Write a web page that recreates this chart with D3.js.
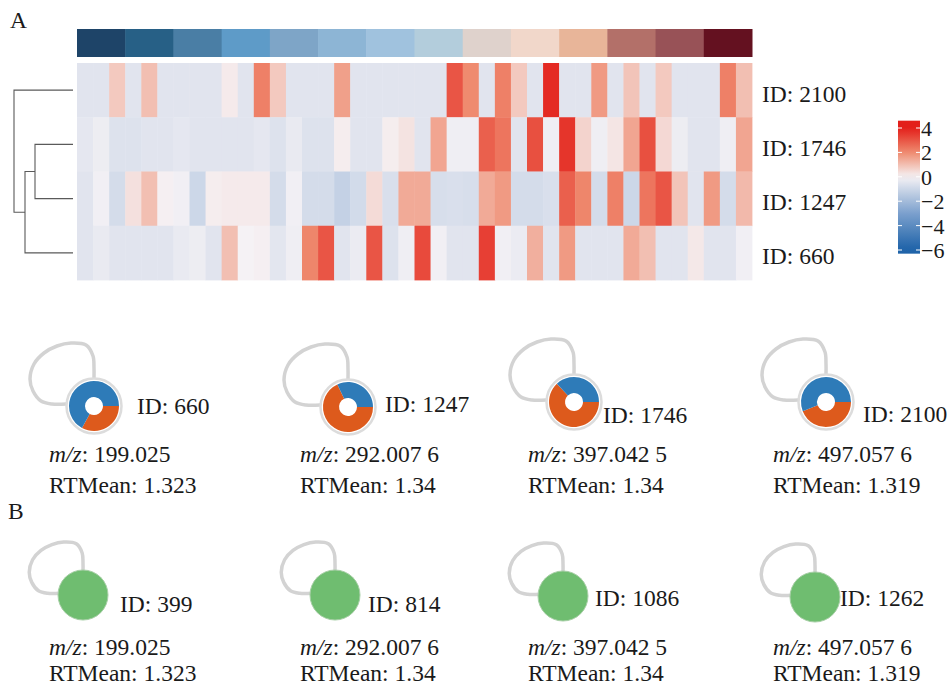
<!DOCTYPE html>
<html><head><meta charset="utf-8">
<script src="https://cdn.jsdelivr.net/npm/d3@7/dist/d3.min.js"></script>
<style>
body{margin:0;background:#fff;overflow:hidden}
svg{display:block}
</style>
</head><body>
<svg id="c" width="952" height="687" font-family="'Liberation Serif', 'Times New Roman', Times, 'DejaVu Serif', serif"></svg>
<script>
// ---------- DATA ----------
const rowIds = ["2100", "1746", "1247", "660"];
const groupColors = ["#1e4468","#276086","#4a7ea5","#5e9bc8","#7ea5c7","#8db5d5","#a0c2de",
                     "#b3cddc","#dfd2cc","#f1d7ca","#e8b599","#b37069","#985257","#641120"];
const v2100 = [-0.5,-0.5,0.8,-0.5,1.0,-0.5,-0.5,-0.5,-0.5,0.15,-0.5,2.2,0.8,-0.5,-0.5,-0.5,1.6,-0.5,-0.5,-0.5,-0.5,
               -0.5,-0.5,3.0,2.0,-0.5,2.2,0.8,-0.5,3.8,-0.5,-0.5,1.7,-0.5,0.9,-0.5,0.8,-0.5,-0.5,-0.5,2.2,1.0];
const v1746 = [-0.4,-0.2,-0.6,-0.6,-0.5,-0.5,-0.4,-0.5,-0.5,-0.5,-0.5,-0.4,-0.6,-0.3,-0.6,-0.6,0.1,-0.5,-0.5,0.1,0.3,
               -0.5,1.5,-0.15,-0.15,2.8,2.4,-0.5,3.1,-0.15,3.6,0.6,-0.15,0.25,1.5,3.1,0.5,-0.2,-0.5,-0.5,-0.15,1.5];
const v1247 = [-0.5,-0.1,-0.8,0.35,1.0,0.05,-0.1,-1.0,0.1,0.15,0.15,0.15,-0.8,-0.1,-0.8,-0.8,-1.2,-0.85,0.45,-0.7,1.4,
               1.4,-0.75,-0.7,-0.75,1.4,1.7,-0.8,-0.8,-0.7,2.8,2.1,-0.8,2.2,-1.0,2.4,3.0,0.9,-0.5,1.7,-0.8,1.1];
const v660  = [-0.5,-0.3,-0.5,-0.5,-0.5,-0.5,-0.3,-0.2,-0.5,1.0,0.0,0.05,-0.45,-0.15,2.1,3.0,-0.5,-0.25,3.0,-0.6,-0.15,
               3.2,-0.1,-0.5,-0.5,3.4,-0.1,-0.25,1.3,-0.5,1.7,-0.5,-0.5,-0.5,1.4,1.0,-0.5,-0.5,0.2,-0.5,-0.5,-0.1];
const legendTicks = [4, 2, 0, -2, -4, -6];
// hierarchical clustering merges (children, merge height)
const merges = [
  {id:"m1", a:"1746", b:"1247", h:3.8},
  {id:"m2", a:"m1",   b:"660",  h:4.8},
  {id:"m3", a:"2100", b:"m2",   h:5.9}
];
const moduleIdsA = ["660", "1247", "1746", "2100"];
const orangeShare = [0.33, 0.68, 0.63, 0.44];
const moduleIdsB = ["399", "814", "1086", "1262"];
const mzValues = ["199.025", "292.007 6", "397.042 5", "497.057 6"];
const rtMeans = ["1.323", "1.34", "1.34", "1.319"];

// ---------- LAYOUT ----------
const svg = d3.select("#c");
const FS = "23.5px";
const nCols = v2100.length;
const rowsData = {"2100": v2100, "1746": v1746, "1247": v1247, "660": v660};
const heat = {x0: 77, x1: 752, y0: 63, y1: 280, annY0: 29, annY1: 57};

const color = d3.scaleLinear()
  .domain([-6, -3, 0, 2, 4])
  .range(["#1d62a8", "#7ba0cd", "#f5f2f5", "#ef8b6f", "#e31f1a"])
  .clamp(true);

const x = d3.scaleBand().domain(d3.range(nCols)).range([heat.x0, heat.x1]);
const y = d3.scaleBand().domain(rowIds).range([heat.y0, heat.y1]);
const xg = d3.scaleBand().domain(d3.range(groupColors.length)).range([heat.x0, heat.x1]);

function txt(g, xx, yy, s) {
  return g.append("text").attr("x", xx).attr("y", yy)
    .attr("font-family", "'Liberation Serif', 'Times New Roman', Times, 'DejaVu Serif', serif")
    .attr("font-size", FS).attr("fill", "#1a1a1a").text(s);
}

// panel labels
txt(svg, 10, 28, "A");
txt(svg, 8, 519, "B");

// top annotation
svg.append("g").selectAll("rect").data(groupColors).join("rect")
  .attr("x", (d, i) => xg(i)).attr("y", heat.annY0)
  .attr("width", xg.bandwidth() + 0.5).attr("height", heat.annY1 - heat.annY0)
  .attr("fill", d => d);

// heatmap cells
const cells = [];
rowIds.forEach(r => rowsData[r].forEach((v, j) => cells.push({r, j, v})));
svg.append("g").selectAll("rect").data(cells).join("rect")
  .attr("x", d => x(d.j)).attr("y", d => y(d.r))
  .attr("width", x.bandwidth() + 0.4).attr("height", y.bandwidth() + 0.4)
  .attr("fill", d => color(d.v));

// row labels
const rl = svg.append("g");
rowIds.forEach(r => txt(rl, 762, y(r) + y.bandwidth() / 2 + 11.5, "ID: " + r));

// dendrogram
const hx = d3.scaleLinear().domain([0, d3.max(merges, m => m.h)]).range([73, 14]);
const pos = {};
rowIds.forEach(r => pos[r] = {x: hx(0), y: y(r) + y.bandwidth() / 2, h: 0});
const dg = svg.append("g").attr("fill", "none").attr("stroke", "#5a5a5a").attr("stroke-width", 1.1);
merges.forEach(m => {
  const a = pos[m.a], b = pos[m.b], X = hx(m.h);
  dg.append("path").attr("d", `M${a.x},${a.y}H${X}V${b.y}H${b.x}`);
  pos[m.id] = {x: X, y: (a.y + b.y) / 2, h: m.h};
});

// color legend
const ly = d3.scaleLinear().domain([-6, 4]).range([250, 128]);
const defs = svg.append("defs");
const grad = defs.append("linearGradient").attr("id", "lg").attr("x1", 0).attr("y1", 1).attr("x2", 0).attr("y2", 0);
const gTop = 4.6, gBot = -6.3;
d3.range(0, 1.0001, 0.05).forEach(t => {
  grad.append("stop").attr("offset", t).attr("stop-color", color(gBot + t * (gTop - gBot)));
});
svg.append("rect").attr("x", 898).attr("y", ly(gTop)).attr("width", 22)
  .attr("height", ly(gBot) - ly(gTop)).attr("fill", "url(#lg)");
const lt = svg.append("g");
legendTicks.forEach(t => {
  lt.append("line").attr("x1", 898).attr("x2", 902).attr("y1", ly(t)).attr("y2", ly(t)).attr("stroke", "#fff").attr("stroke-width", 1);
  lt.append("line").attr("x1", 916).attr("x2", 920).attr("y1", ly(t)).attr("y2", ly(t)).attr("stroke", "#fff").attr("stroke-width", 1);
  txt(lt, 921, ly(t) + 8, t < 0 ? "\u2212" + Math.abs(t) : String(t)).attr("font-size", "22px");
});

// ---------- network modules ----------
const loopPts = [[-28,-2],[-42,-2],[-53,-5],[-61,-15],[-64,-27],[-60,-42],[-50,-53],[-37,-60],[-23,-63],[-8,-61],[-1,-50],[0,-38],[0,-28]];
const loopLine = d3.line().curve(d3.curveCatmullRom.alpha(0.5));
function drawLoop(g, cx, cy, s) {
  g.append("path").attr("d", loopLine(loopPts.map(p => [cx + p[0] * s, cy + p[1] * s])))
    .attr("fill", "none").attr("stroke", "#d3d3d3").attr("stroke-width", 3.5).attr("stroke-linecap", "round");
}
function drawInfo(g, tx, y1, y2, i) {
  const t = txt(g, tx, y1, "");
  t.append("tspan").attr("font-style", "italic").text("m/z");
  t.append("tspan").text(": " + mzValues[i]);
  txt(g, tx, y2, "RTMean: " + rtMeans[i]);
}

const topLayout = [
  {cx: 94, cy: 406, ldx: 43, ldy: 8, tx: 49},
  {cx: 348, cy: 407, ldx: 37, ldy: 5, tx: 300},
  {cx: 574, cy: 402, ldx: 29, ldy: 21, tx: 528},
  {cx: 826, cy: 402, ldx: 37, ldy: 20, tx: 773}
];
const pie = d3.pie().sort(null).startAngle(Math.PI / 2).endAngle(Math.PI / 2 + 2 * Math.PI);
const arc = d3.arc().innerRadius(9).outerRadius(25);
const sliceColors = ["#dd5a1c", "#2e7bb8"];
moduleIdsA.forEach((id, i) => {
  const L = topLayout[i];
  const g = svg.append("g");
  drawLoop(g, L.cx, L.cy, 1);
  g.append("circle").attr("cx", L.cx).attr("cy", L.cy).attr("r", 27.5)
    .attr("fill", "#fff").attr("stroke", "#dcdcdc").attr("stroke-width", 2.5);
  g.append("g").attr("transform", `translate(${L.cx},${L.cy})`)
    .selectAll("path").data(pie([orangeShare[i], 1 - orangeShare[i]])).join("path")
    .attr("d", arc).attr("fill", (d, k) => sliceColors[k]);
  txt(g, L.cx + L.ldx, L.cy + L.ldy, "ID: " + id);
  drawInfo(g, L.tx, 462, 493, i);
});

const botLayout = [
  {cx: 83, cy: 595, lx: 120, ly: 612, tx: 49},
  {cx: 335, cy: 595, lx: 368, ly: 612, tx: 300},
  {cx: 563, cy: 596, lx: 595, ly: 606, tx: 528},
  {cx: 815, cy: 597, lx: 840, ly: 606, tx: 773}
];
moduleIdsB.forEach((id, i) => {
  const L = botLayout[i];
  const g = svg.append("g");
  drawLoop(g, L.cx, L.cy, 0.84);
  g.append("circle").attr("cx", L.cx).attr("cy", L.cy).attr("r", 25)
    .attr("fill", "#6fbd70").attr("stroke", "#a7cfa6").attr("stroke-width", 1);
  txt(g, L.lx, L.ly, "ID: " + id);
  drawInfo(g, L.tx, 655, 681, i);
});
</script>
</body></html>
